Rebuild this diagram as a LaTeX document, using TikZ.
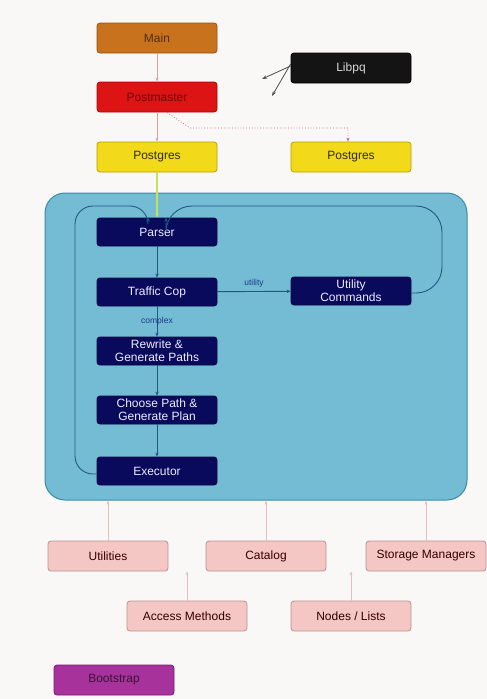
\documentclass[tikz,border=0pt]{standalone}
\usepackage{fontspec}
\setmainfont{Liberation Sans}
\usetikzlibrary{arrows.meta}
\definecolor{bg}{HTML}{FAF8F7}
\definecolor{mainfill}{HTML}{C8721E}
\definecolor{mainline}{HTML}{9A5210}
\definecolor{pmfill}{HTML}{DC1414}
\definecolor{pmline}{HTML}{A00A0A}
\definecolor{pgfill}{HTML}{F2DA1A}
\definecolor{pgline}{HTML}{B8A000}
\definecolor{navy}{HTML}{0A0A5C}
\definecolor{cyanbox}{HTML}{74BCD4}
\definecolor{cyanline}{HTML}{3A8AA8}
\definecolor{pinkfill}{HTML}{F4C6C4}
\definecolor{pinkline}{HTML}{B89494}
\definecolor{bsfill}{HTML}{A8329C}
\definecolor{bsline}{HTML}{7A1A70}
\definecolor{teal}{HTML}{1E5A80}
\definecolor{toparrow}{HTML}{D4A4A4}
\definecolor{dotred}{HTML}{E06060}
\definecolor{greenline}{HTML}{C8E060}
\definecolor{labelblue}{HTML}{1A3A8A}
\definecolor{botarrow}{HTML}{E2C0C0}
\begin{document}
\begin{tikzpicture}[x=1pt,y=-1pt,
  box/.style={rounded corners=3pt, minimum width=120pt, minimum height=30pt,
    align=center, inner sep=1pt, line width=0.8pt,
    font=\fontsize{12}{13}\selectfont},
  navybox/.style={box, fill=navy, draw=navy!70!black, text=white!92!blue, minimum height=28pt},
  pinkbox/.style={box, fill=pinkfill, draw=pinkline, text=black!80!red},
  tarrow/.style={-{Stealth[length=4pt,width=3pt]}, draw=toparrow, line width=0.8pt},
  inarrow/.style={-{Stealth[length=4pt,width=3.5pt]}, draw=teal, line width=0.9pt},
  barrow/.style={-{Stealth[length=4pt,width=3pt]}, draw=botarrow, line width=0.8pt},
  elabel/.style={font=\fontsize{8.5}{9}\selectfont, text=labelblue}
]
\fill[bg] (0,0) rectangle (487,699);
\useasboundingbox (0,0) rectangle (487,699);

% big container
\node[draw=cyanline, fill=cyanbox, line width=1pt, rounded corners=20pt,
      minimum width=422pt, minimum height=307pt, inner sep=0pt] (core) at (256,346.5) {};

% top nodes
\node[box, fill=mainfill, draw=mainline, text=black!60!mainfill] (main) at (157,38) {Main};
\node[box, fill=pmfill, draw=pmline, text=black!50!pmfill] (pm) at (157,97) {Postmaster};
\node[box, fill=pgfill, draw=pgline, text=black!80!pgfill] (pg1) at (157,157) {Postgres};
\node[box, fill=pgfill, draw=pgline, text=black!80!pgfill] (pg2) at (351,157) {Postgres};
\node[box, fill=black!92, draw=black, text=white!85!black] (libpq) at (351,68) {Libpq};

% navy nodes
\node[navybox] (parser) at (157,232) {Parser};
\node[navybox] (tc) at (157,292) {Traffic Cop};
\node[navybox] (util) at (351,291) {Utility\\Commands};
\node[navybox] (rewrite) at (157,351) {Rewrite \&\\Generate Paths};
\node[navybox] (choose) at (157,410) {Choose Path \&\\Generate Plan};
\node[navybox] (exec) at (157,471) {Executor};

% bottom nodes
\node[pinkbox] (utilities) at (108,556) {Utilities};
\node[pinkbox] (catalog) at (266,556) {Catalog};
\node[pinkbox] (storage) at (426,556) {Storage Managers};
\node[pinkbox] (access) at (187,616) {Access Methods};
\node[pinkbox] (nodes) at (351,616) {Nodes / Lists};
\node[box, fill=bsfill, draw=bsline, text=black!65!bsfill] (boot) at (114,680) {Bootstrap};

% top arrows
\draw[tarrow] (main) -- (pm);
\draw[tarrow] (pm) -- (pg1);
\draw[-{Stealth[length=4pt,width=3pt]}, draw=dotred, line width=0.8pt, dotted]
  ([xshift=10pt]pm.south) -- (190,128) -- (348,128) -- ([xshift=-3pt]pg2.north);

% libpq arrows
\coordinate (lp1) at (262,79);
\coordinate (lp2) at (272,96);
\draw[-{Stealth[length=5pt,width=3.5pt]}, draw=black!70, line width=0.8pt] ([yshift=2pt]libpq.west) -- (lp1);
\draw[-{Stealth[length=5pt,width=3.5pt]}, draw=black!70, line width=0.8pt] ([yshift=4pt]libpq.west) -- (lp2);

% postgres to parser
\draw[-{Stealth[length=4pt,width=3pt]}, draw=greenline, line width=1.2pt] (pg1) -- (parser);

% inner arrows
\draw[inarrow] (parser) -- (tc);
\draw[inarrow] (tc) -- node[elabel, above] {utility} (util);
\draw[inarrow] (tc) -- node[elabel] {complex} (rewrite);
\draw[inarrow] (rewrite) -- (choose);
\draw[inarrow] (choose) -- (exec);
\draw[inarrow, rounded corners=18pt] ([yshift=-3pt]exec.west) -| (75,206) -| ([xshift=-9pt]parser.north);
\draw[inarrow, rounded corners=26pt] ([yshift=-2pt]util.east) -| (442,206) -| ([xshift=9pt]parser.north);

% bottom arrows
\draw[barrow] (utilities) -- (utilities |- core.south);
\draw[barrow] (catalog) -- (catalog |- core.south);
\draw[barrow] (storage) -- (storage |- core.south);
\draw[barrow] (access) -- (access |- utilities.south);
\draw[barrow] (nodes) -- (nodes |- catalog.south);
\end{tikzpicture}
\end{document}
